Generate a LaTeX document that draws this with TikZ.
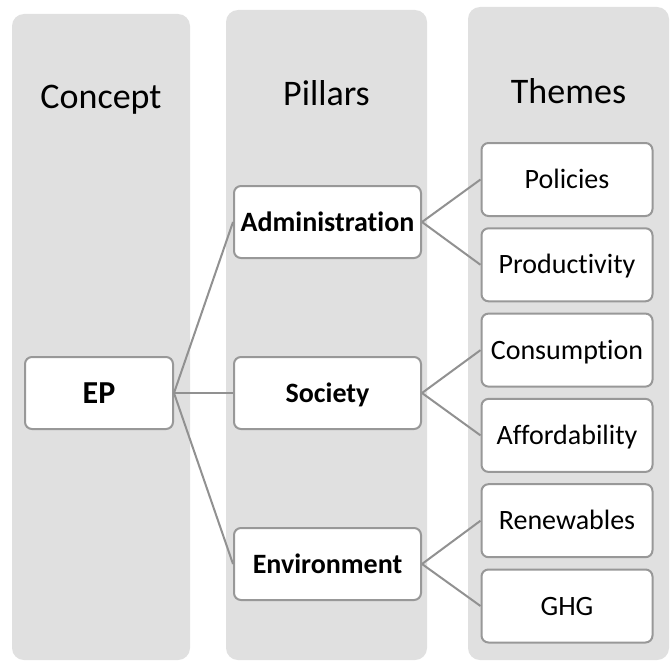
\documentclass[tikz,border=0pt]{standalone}
\usepackage{fontspec}
\setmainfont{Carlito}[Ligatures=NoCommon]
\definecolor{colfill}{RGB}{224,224,224}
\definecolor{boxline}{RGB}{152,152,152}
\definecolor{linkline}{RGB}{145,145,145}
\begin{document}
\begin{tikzpicture}[x=1pt,y=-1pt,
  column/.style={fill=colfill, draw=none, rounded corners=12pt},
  heading/.style={anchor=base, inner sep=0pt, font=\fontsize{36}{40}\selectfont},
  itembox/.style={draw=boxline, line width=2pt, fill=white, rounded corners=7pt,
    inner sep=0pt, text height=18pt, text depth=0pt, font=\fontsize{28}{32}\selectfont},
  theme/.style={itembox, minimum width=171pt, minimum height=73pt},
  pillar/.style={itembox, minimum width=187pt, minimum height=72pt,
    font=\fontsize{28}{32}\selectfont\bfseries},
  concept/.style={itembox, minimum width=148pt, minimum height=72pt, text height=20.6pt,
    font=\fontsize{32}{36}\selectfont\bfseries},
  link/.style={draw=linkline, line width=2pt}
]
\useasboundingbox (0,0) rectangle (671,661);
\fill[white] (0,0) rectangle (671,661);

% three column panels
\path[column] (12,14) rectangle (190,660);
\path[column] (226,10) rectangle (427,660);
\path[column] (468,7) rectangle (669,660);

% column headings
\node[heading] (hconcept) at (101,108) {Concept};
\node[heading] (hpillars) at (326.5,105) {Pillars};
\node[heading] (hthemes) at (568.5,103) {Themes};

% concept and pillars
\node[concept] (ep) at (99,393) {EP};
\node[pillar] (adm) at (327.5,222) {Administration};
\node[pillar] (soc) at (327.5,393) {Society};
\node[pillar] (env) at (327.5,564) {Environment};

% themes
\node[theme] (pol) at (567,179.5) {Policies};
\node[theme] (pro) at (567,264.8) {Productivity};
\node[theme] (con) at (567,350.1) {Consumption};
\node[theme] (aff) at (567,435.4) {Affordability};
\node[theme] (ren) at (567,520.7) {Renewables};
\node[theme] (ghg) at (567,606) {GHG};

% connectors
\draw[link] (ep.east) -- (adm.west);
\draw[link] (ep.east) -- (soc.west);
\draw[link] (ep.east) -- (env.west);
\draw[link] (adm.east) -- (pol.west);
\draw[link] (adm.east) -- (pro.west);
\draw[link] (soc.east) -- (con.west);
\draw[link] (soc.east) -- (aff.west);
\draw[link] (env.east) -- (ren.west);
\draw[link] (env.east) -- (ghg.west);
\end{tikzpicture}
\end{document}
